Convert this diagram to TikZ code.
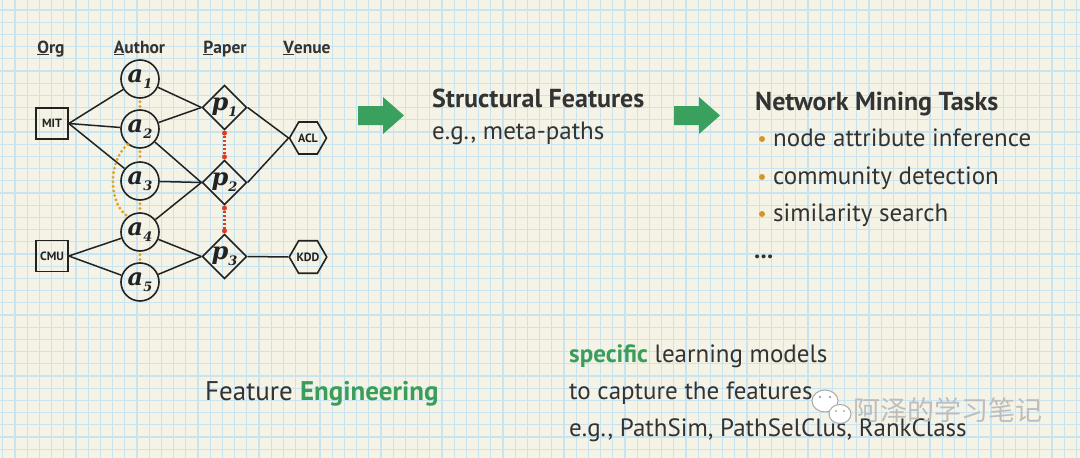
\documentclass[tikz,border=0pt]{standalone}
\usepackage{fontspec}
\setmainfont{PT Sans}
\newfontfamily\nodefont{DejaVu Serif}
\newfontfamily\cjk{Noto Sans CJK SC}
\usetikzlibrary{shapes.geometric}
\definecolor{bg}{HTML}{F5F2E6}
\definecolor{gridc}{HTML}{C9E3EF}
\definecolor{ink}{HTML}{222222}
\definecolor{txt}{HTML}{333333}
\definecolor{grn}{HTML}{3AA05E}
\definecolor{gtxt}{HTML}{3A9E5A}
\definecolor{orng}{HTML}{E3A21A}
\definecolor{bul}{HTML}{D4962A}
\definecolor{redd}{HTML}{E23B22}
\definecolor{wm}{HTML}{A8A8A8}
\definecolor{wmt}{HTML}{BDBDBD}
\newcommand{\lbl}[2]{{\nodefont\bfseries\itshape\fontsize{24}{24}\selectfont #1\raisebox{-6pt}{\fontsize{13}{13}\selectfont #2}}}
\begin{document}
\begin{tikzpicture}[x=1pt,y=-1pt,
  edge/.style={draw=ink,line width=1.5pt},
  orgbox/.style={draw=ink,line width=1.6pt,minimum width=32pt,minimum height=31pt,inner sep=0pt,font=\bfseries\fontsize{12}{12}\selectfont,text=ink},
  author/.style={circle,draw=ink,line width=1.6pt,minimum size=38pt,inner sep=0pt,text=ink},
  paper/.style={diamond,aspect=1,draw=ink,line width=1.6pt,minimum size=40pt,inner sep=0pt,text=ink},
  venue/.style={regular polygon,regular polygon sides=6,draw=ink,line width=1.6pt,minimum size=37pt,inner sep=0pt,font=\bfseries\fontsize{12}{12}\selectfont,text=ink},
  head/.style={anchor=base,font=\bfseries\fontsize{17.5}{17.5}\selectfont,text=txt,inner sep=0pt},
  orangedot/.style={draw=orng,line width=3.2pt,line cap=round,dash pattern=on 0pt off 4.6pt},
  reddot/.style={draw=redd,line width=2.8pt,dash pattern=on 2pt off 1.8pt},
  bigarrow/.style={fill=grn},
  ttl/.style={anchor=base west,inner sep=0pt,text=txt,font=\bfseries\fontsize{26}{26}\selectfont},
  body/.style={anchor=base west,inner sep=0pt,text=txt,font=\fontsize{25}{25}\selectfont}
]
\fill[bg] (0,0) rectangle (1080,458);
\useasboundingbox (0,0) rectangle (1080,458);
\foreach \i in {0,...,88} \draw[gridc,line width=1.2pt] ({2.7+12.2*\i},0) -- ++(0,458);
\foreach \j in {0,...,37} \draw[gridc,line width=1.2pt] (0,{10+12.2*\j}) -- ++(1080,0);

% headers
\node[head] (hOrg) at (51,53) {\underline{O}rg};
\node[head] (hAuthor) at (139.5,53) {\underline{A}uthor};
\node[head] (hPaper) at (225,53) {\underline{P}aper};
\node[head] (hVenue) at (307,53) {\underline{V}enue};

% nodes
\node[orgbox] (mit) at (52,123.5) {MIT};
\node[orgbox] (cmu) at (52,256) {CMU};
\node[author] (a1) at (140,79) {\lbl{a}{1}};
\node[author] (a2) at (140,129) {\lbl{a}{2}};
\node[author] (a3) at (140,181) {\lbl{a}{3}};
\node[author] (a4) at (140,232) {\lbl{a}{4}};
\node[author] (a5) at (140,282) {\lbl{a}{5}};
\node[paper] (p1) at (224.5,107.5) {\lbl{p}{1}};
\node[paper] (p2) at (224.5,182.5) {\lbl{p}{2}};
\node[paper] (p3) at (224.5,256.5) {\lbl{p}{3}};
\node[venue] (acl) at (308,138) {ACL};
\node[venue] (kdd) at (308,257) {KDD};

% edges
\draw[edge] (mit.east) -- (a1);
\draw[edge] (mit.east) -- (a2);
\draw[edge] (mit.east) -- (a3);
\draw[edge] (cmu.east) -- (a4);
\draw[edge] (cmu.east) -- (a5);
\draw[edge] (a1) -- (p1.west);
\draw[edge] (a2) -- (p1.west);
\draw[edge] (a2) -- (p2.west);
\draw[edge] (a3) -- (p2.west);
\draw[edge] (a4) -- (p2.west);
\draw[edge] (a4) -- (p3.west);
\draw[edge] (a5) -- (p3.west);
\draw[edge] (p1.east) -- (acl.west);
\draw[edge] (p2.east) -- (acl.west);
\draw[edge] (p3.east) -- (kdd.west);

% orange meta-path dots
\draw[orangedot] ([yshift=-3pt]a1.south) -- ([yshift=2pt]a2.north);
\draw[orangedot] ([yshift=-3pt]a2.south) -- ([yshift=2pt]a3.north);
\draw[orangedot] ([yshift=-3pt]a3.south) -- ([yshift=2pt]a4.north);
\draw[orangedot] ([yshift=-3pt]a4.south) -- ([yshift=2pt]a5.north);
\draw[orangedot] (a2.232) .. controls (108,160) and (108,204) .. (a4.128);

% red dots
\draw[reddot] ([yshift=-2pt]p1.south) -- ([yshift=2pt]p2.north);
\draw[reddot] ([yshift=-2pt]p2.south) -- ([yshift=2pt]p3.north);
\fill[redd] ([yshift=-2.5pt]p1.south) circle (2.5pt);
\fill[redd] ([yshift=2.5pt]p2.north) circle (2.5pt);
\fill[redd] ([yshift=-2.5pt]p2.south) circle (2.5pt);
\fill[redd] ([yshift=2.5pt]p3.north) circle (2.5pt);

% green arrows
\fill[bigarrow] (358,106) -- (383,106) -- (383,97) -- (404,115.5) -- (383,134) -- (383,125) -- (358,125) -- cycle;
\fill[bigarrow] (674,106) -- (699,106) -- (699,97) -- (720,115.5) -- (699,134) -- (699,125) -- (674,125) -- cycle;

% texts
\node[ttl] (sf) at (432,107) {Structural Features};
\node[body] (mp) at (432,139) {e.g., meta-paths};
\node[ttl] (nmt) at (755,110) {Network Mining Tasks};
\fill[bul] (762,139) circle (3pt);
\fill[bul] (762,177) circle (3pt);
\fill[bul] (762,214) circle (3pt);
\node[body] (t1) at (773,146) {node attribute inference};
\node[body] (t2) at (773,184) {community detection};
\node[body] (t3) at (773,221) {similarity search};
\node[body,font=\bfseries\fontsize{25}{25}\selectfont] (t4) at (754,258) {...};

\node[body,font=\fontsize{27}{27}\selectfont] (fe) at (205,400) {Feature \textcolor{gtxt}{\bfseries Engineering}};
\node[body] (s1) at (569,362) {\textcolor{gtxt}{\bfseries specific} learning models};
\node[body] (s2) at (569,399) {to capture the features};
\node[body] (s3) at (569,436) {e.g., PathSim, PathSelClus, RankClass};

% watermark
\begin{scope}[line width=1pt]
\filldraw[draw=wm,fill=white] (825,401) ellipse (13pt and 11pt);
\filldraw[draw=wm,fill=white] (840,414) ellipse (11pt and 9.5pt);
\fill[wm] (820,397) circle (1.3pt) (830,397) circle (1.3pt) (836,411) circle (1.2pt) (844,411) circle (1.2pt);
\end{scope}
\node[anchor=west,inner sep=0pt,text=wmt,font=\cjk\fontsize{27}{27}\selectfont] (wmtext) at (853,410) {阿泽的学习笔记};
\end{tikzpicture}
\end{document}
